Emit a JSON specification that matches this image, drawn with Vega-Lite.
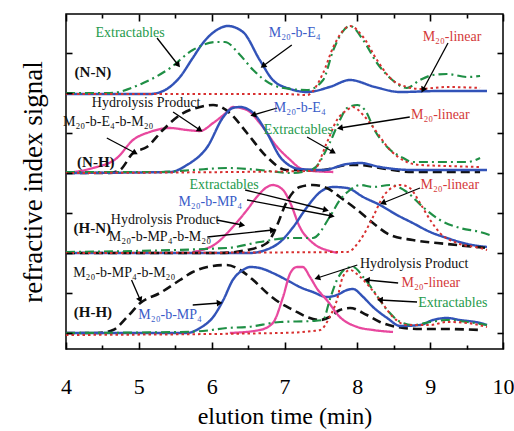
{
"$schema": "https://vega.github.io/schema/vega-lite/v6.json",
"width": 437, "height": 335,
"autosize": "none",
"padding": {"left": 66, "top": 14, "right": 11, "bottom": 82},
"config": {"font": "Liberation Serif", "view": {"stroke": "black", "strokeWidth": 1.5}},
"datasets": {
"curves": [
{"p":"NN","k":"diblock","t":4,"s":5.975},{"p":"NN","k":"diblock","t":5.15,"s":5.975},{"p":"NN","k":"diblock","t":5.36,"s":6.075},{"p":"NN","k":"diblock","t":5.565,"s":6.4},{"p":"NN","k":"diblock","t":5.74,"s":6.875},{"p":"NN","k":"diblock","t":5.88,"s":7.25},{"p":"NN","k":"diblock","t":6.07,"s":7.575},{"p":"NN","k":"diblock","t":6.22,"s":7.675},{"p":"NN","k":"diblock","t":6.43,"s":7.525},{"p":"NN","k":"diblock","t":6.66,"s":6.825},{"p":"NN","k":"diblock","t":6.84,"s":6.325},{"p":"NN","k":"diblock","t":7.08,"s":6.1},{"p":"NN","k":"diblock","t":7.31,"s":6.025},{"p":"NN","k":"diblock","t":7.62,"s":6.15},{"p":"NN","k":"diblock","t":7.9,"s":6.325},{"p":"NN","k":"diblock","t":8.24,"s":6.15},{"p":"NN","k":"diblock","t":8.59,"s":6.025},{"p":"NN","k":"diblock","t":9.135,"s":6.05},{"p":"NN","k":"diblock","t":9.78,"s":6.05},
{"p":"NN","k":"extractables","t":4,"s":6.0},{"p":"NN","k":"extractables","t":4.6,"s":6.0},{"p":"NN","k":"extractables","t":5.06,"s":6.25},{"p":"NN","k":"extractables","t":5.43,"s":6.625},{"p":"NN","k":"extractables","t":5.74,"s":7.075},{"p":"NN","k":"extractables","t":6.07,"s":7.275},{"p":"NN","k":"extractables","t":6.18,"s":7.275},{"p":"NN","k":"extractables","t":6.39,"s":6.95},{"p":"NN","k":"extractables","t":6.57,"s":6.575},{"p":"NN","k":"extractables","t":6.84,"s":6.2},{"p":"NN","k":"extractables","t":7.08,"s":6.1},{"p":"NN","k":"extractables","t":7.31,"s":6.075},{"p":"NN","k":"extractables","t":7.53,"s":6.325},{"p":"NN","k":"extractables","t":7.67,"s":7.075},{"p":"NN","k":"extractables","t":7.86,"s":7.65},{"p":"NN","k":"extractables","t":7.9,"s":7.675},{"p":"NN","k":"extractables","t":8.08,"s":7.325},{"p":"NN","k":"extractables","t":8.27,"s":6.75},{"p":"NN","k":"extractables","t":8.45,"s":6.375},{"p":"NN","k":"extractables","t":8.68,"s":6.125},{"p":"NN","k":"extractables","t":8.86,"s":6.325},{"p":"NN","k":"extractables","t":9.04,"s":6.45},{"p":"NN","k":"extractables","t":9.23,"s":6.475},{"p":"NN","k":"extractables","t":9.51,"s":6.4},{"p":"NN","k":"extractables","t":9.685,"s":6.425},
{"p":"NN","k":"linear","t":4,"s":5.975},{"p":"NN","k":"linear","t":7.0,"s":5.975},{"p":"NN","k":"linear","t":7.31,"s":5.95},{"p":"NN","k":"linear","t":7.53,"s":6.5},{"p":"NN","k":"linear","t":7.67,"s":7.15},{"p":"NN","k":"linear","t":7.86,"s":7.65},{"p":"NN","k":"linear","t":7.9,"s":7.675},{"p":"NN","k":"linear","t":8.08,"s":7.4},{"p":"NN","k":"linear","t":8.27,"s":6.825},{"p":"NN","k":"linear","t":8.45,"s":6.375},{"p":"NN","k":"linear","t":8.68,"s":6.15},{"p":"NN","k":"linear","t":8.86,"s":6.1},{"p":"NN","k":"linear","t":9.23,"s":6.15},{"p":"NN","k":"linear","t":9.685,"s":6.125},
{"p":"NH","k":"hydrolysis","t":4,"s":4.0},{"p":"NH","k":"hydrolysis","t":4.37,"s":4.125},{"p":"NH","k":"hydrolysis","t":4.7,"s":4.375},{"p":"NH","k":"hydrolysis","t":4.92,"s":4.825},{"p":"NH","k":"hydrolysis","t":5.15,"s":5.025},{"p":"NH","k":"hydrolysis","t":5.43,"s":5.125},{"p":"NH","k":"hydrolysis","t":5.66,"s":5.075},{"p":"NH","k":"hydrolysis","t":5.84,"s":5.05},{"p":"NH","k":"hydrolysis","t":6.02,"s":5.25},{"p":"NH","k":"hydrolysis","t":6.21,"s":5.525},{"p":"NH","k":"hydrolysis","t":6.29,"s":5.65},{"p":"NH","k":"hydrolysis","t":6.485,"s":5.575},{"p":"NH","k":"hydrolysis","t":6.66,"s":5.25},{"p":"NH","k":"hydrolysis","t":6.9,"s":4.65},{"p":"NH","k":"hydrolysis","t":7.08,"s":4.325},{"p":"NH","k":"hydrolysis","t":7.21,"s":4.125},{"p":"NH","k":"hydrolysis","t":7.39,"s":4.05},{"p":"NH","k":"hydrolysis","t":7.67,"s":4.025},
{"p":"NH","k":"triblock","t":4,"s":4.0},{"p":"NH","k":"triblock","t":4.6,"s":4.0},{"p":"NH","k":"triblock","t":4.74,"s":4.075},{"p":"NH","k":"triblock","t":4.92,"s":4.5},{"p":"NH","k":"triblock","t":5.11,"s":4.65},{"p":"NH","k":"triblock","t":5.33,"s":5.075},{"p":"NH","k":"triblock","t":5.565,"s":5.45},{"p":"NH","k":"triblock","t":5.84,"s":5.65},{"p":"NH","k":"triblock","t":6.02,"s":5.7},{"p":"NH","k":"triblock","t":6.25,"s":5.5},{"p":"NH","k":"triblock","t":6.485,"s":5.0},{"p":"NH","k":"triblock","t":6.76,"s":4.4},{"p":"NH","k":"triblock","t":7.03,"s":4.075},{"p":"NH","k":"triblock","t":7.53,"s":4.075},{"p":"NH","k":"triblock","t":7.86,"s":4.2},{"p":"NH","k":"triblock","t":8.04,"s":4.2},{"p":"NH","k":"triblock","t":8.31,"s":4.125},{"p":"NH","k":"triblock","t":8.76,"s":4.025},{"p":"NH","k":"triblock","t":9.685,"s":4.025},
{"p":"NH","k":"diblock","t":4,"s":4.0},{"p":"NH","k":"diblock","t":5.43,"s":4.025},{"p":"NH","k":"diblock","t":5.66,"s":4.2},{"p":"NH","k":"diblock","t":5.94,"s":4.65},{"p":"NH","k":"diblock","t":6.16,"s":5.4},{"p":"NH","k":"diblock","t":6.29,"s":5.625},{"p":"NH","k":"diblock","t":6.39,"s":5.65},{"p":"NH","k":"diblock","t":6.57,"s":5.5},{"p":"NH","k":"diblock","t":6.76,"s":5.0},{"p":"NH","k":"diblock","t":6.94,"s":4.4},{"p":"NH","k":"diblock","t":7.08,"s":4.175},{"p":"NH","k":"diblock","t":7.21,"s":4.1},{"p":"NH","k":"diblock","t":7.53,"s":4.075},{"p":"NH","k":"diblock","t":7.86,"s":4.225},{"p":"NH","k":"diblock","t":8.04,"s":4.25},{"p":"NH","k":"diblock","t":8.31,"s":4.15},{"p":"NH","k":"diblock","t":8.76,"s":4.075},{"p":"NH","k":"diblock","t":9.78,"s":4.075},
{"p":"NH","k":"extractables","t":4,"s":4.025},{"p":"NH","k":"extractables","t":5.29,"s":4.025},{"p":"NH","k":"extractables","t":5.74,"s":4.075},{"p":"NH","k":"extractables","t":6.21,"s":4.125},{"p":"NH","k":"extractables","t":6.66,"s":4.075},{"p":"NH","k":"extractables","t":7.08,"s":4.0},{"p":"NH","k":"extractables","t":7.39,"s":4.1},{"p":"NH","k":"extractables","t":7.62,"s":4.75},{"p":"NH","k":"extractables","t":7.76,"s":5.325},{"p":"NH","k":"extractables","t":7.86,"s":5.625},{"p":"NH","k":"extractables","t":8.0,"s":5.7},{"p":"NH","k":"extractables","t":8.13,"s":5.5},{"p":"NH","k":"extractables","t":8.215,"s":5.15},{"p":"NH","k":"extractables","t":8.41,"s":4.65},{"p":"NH","k":"extractables","t":8.63,"s":4.375},{"p":"NH","k":"extractables","t":8.76,"s":4.275},{"p":"NH","k":"extractables","t":9.23,"s":4.275},{"p":"NH","k":"extractables","t":9.51,"s":4.275},{"p":"NH","k":"extractables","t":9.685,"s":4.375},
{"p":"NH","k":"linear","t":4,"s":4.0},{"p":"NH","k":"linear","t":7.39,"s":4.05},{"p":"NH","k":"linear","t":7.58,"s":4.75},{"p":"NH","k":"linear","t":7.72,"s":5.325},{"p":"NH","k":"linear","t":7.86,"s":5.575},{"p":"NH","k":"linear","t":7.94,"s":5.65},{"p":"NH","k":"linear","t":8.08,"s":5.45},{"p":"NH","k":"linear","t":8.215,"s":5.15},{"p":"NH","k":"linear","t":8.45,"s":4.575},{"p":"NH","k":"linear","t":8.68,"s":4.275},{"p":"NH","k":"linear","t":8.86,"s":4.2},{"p":"NH","k":"linear","t":9.23,"s":4.175},{"p":"NH","k":"linear","t":9.685,"s":4.15},
{"p":"HN","k":"hydrolysis","t":5.74,"s":2.025},{"p":"HN","k":"hydrolysis","t":6.07,"s":2.25},{"p":"HN","k":"hydrolysis","t":6.29,"s":2.65},{"p":"HN","k":"hydrolysis","t":6.485,"s":3.075},{"p":"HN","k":"hydrolysis","t":6.62,"s":3.4},{"p":"HN","k":"hydrolysis","t":6.76,"s":3.65},{"p":"HN","k":"hydrolysis","t":6.84,"s":3.7},{"p":"HN","k":"hydrolysis","t":6.98,"s":3.575},{"p":"HN","k":"hydrolysis","t":7.08,"s":3.25},{"p":"HN","k":"hydrolysis","t":7.21,"s":2.65},{"p":"HN","k":"hydrolysis","t":7.39,"s":2.25},{"p":"HN","k":"hydrolysis","t":7.62,"s":2.05},{"p":"HN","k":"hydrolysis","t":7.73,"s":2.0},
{"p":"HN","k":"diblock","t":4,"s":2.0},{"p":"HN","k":"diblock","t":6.53,"s":2.0},{"p":"HN","k":"diblock","t":6.74,"s":2.075},{"p":"HN","k":"diblock","t":6.94,"s":2.275},{"p":"HN","k":"diblock","t":7.12,"s":2.65},{"p":"HN","k":"diblock","t":7.31,"s":3.15},{"p":"HN","k":"diblock","t":7.49,"s":3.525},{"p":"HN","k":"diblock","t":7.67,"s":3.65},{"p":"HN","k":"diblock","t":7.86,"s":3.625},{"p":"HN","k":"diblock","t":8.08,"s":3.4},{"p":"HN","k":"diblock","t":8.31,"s":3.2},{"p":"HN","k":"diblock","t":8.545,"s":2.95},{"p":"HN","k":"diblock","t":8.76,"s":2.75},{"p":"HN","k":"diblock","t":9.0,"s":2.525},{"p":"HN","k":"diblock","t":9.23,"s":2.375},{"p":"HN","k":"diblock","t":9.51,"s":2.225},{"p":"HN","k":"diblock","t":9.78,"s":2.15},
{"p":"HN","k":"triblock","t":4,"s":2.0},{"p":"HN","k":"triblock","t":6.11,"s":2.0},{"p":"HN","k":"triblock","t":6.485,"s":2.075},{"p":"HN","k":"triblock","t":6.76,"s":2.25},{"p":"HN","k":"triblock","t":6.9,"s":2.7},{"p":"HN","k":"triblock","t":7.01,"s":3.2},{"p":"HN","k":"triblock","t":7.12,"s":3.525},{"p":"HN","k":"triblock","t":7.21,"s":3.65},{"p":"HN","k":"triblock","t":7.39,"s":3.7},{"p":"HN","k":"triblock","t":7.58,"s":3.625},{"p":"HN","k":"triblock","t":7.76,"s":3.4},{"p":"HN","k":"triblock","t":8.0,"s":3.075},{"p":"HN","k":"triblock","t":8.215,"s":2.75},{"p":"HN","k":"triblock","t":8.45,"s":2.45},{"p":"HN","k":"triblock","t":8.76,"s":2.325},{"p":"HN","k":"triblock","t":9.23,"s":2.225},{"p":"HN","k":"triblock","t":9.78,"s":2.125},
{"p":"HN","k":"extractables","t":4,"s":2.025},{"p":"HN","k":"extractables","t":6.21,"s":2.125},{"p":"HN","k":"extractables","t":6.66,"s":2.275},{"p":"HN","k":"extractables","t":7.08,"s":2.375},{"p":"HN","k":"extractables","t":7.39,"s":2.375},{"p":"HN","k":"extractables","t":7.62,"s":2.9},{"p":"HN","k":"extractables","t":7.76,"s":3.325},{"p":"HN","k":"extractables","t":7.9,"s":3.575},{"p":"HN","k":"extractables","t":8.04,"s":3.7},{"p":"HN","k":"extractables","t":8.215,"s":3.65},{"p":"HN","k":"extractables","t":8.45,"s":3.7},{"p":"HN","k":"extractables","t":8.68,"s":3.525},{"p":"HN","k":"extractables","t":8.9,"s":3.15},{"p":"HN","k":"extractables","t":9.135,"s":2.825},{"p":"HN","k":"extractables","t":9.41,"s":2.625},{"p":"HN","k":"extractables","t":9.685,"s":2.525},{"p":"HN","k":"extractables","t":9.82,"s":2.45},
{"p":"HN","k":"linear","t":4,"s":2.0},{"p":"HN","k":"linear","t":7.86,"s":2.025},{"p":"HN","k":"linear","t":8.04,"s":2.325},{"p":"HN","k":"linear","t":8.215,"s":2.9},{"p":"HN","k":"linear","t":8.35,"s":3.4},{"p":"HN","k":"linear","t":8.49,"s":3.65},{"p":"HN","k":"linear","t":8.59,"s":3.7},{"p":"HN","k":"linear","t":8.72,"s":3.625},{"p":"HN","k":"linear","t":8.86,"s":3.25},{"p":"HN","k":"linear","t":9.0,"s":2.825},{"p":"HN","k":"linear","t":9.135,"s":2.5},{"p":"HN","k":"linear","t":9.37,"s":2.25},{"p":"HN","k":"linear","t":9.685,"s":2.125},{"p":"HN","k":"linear","t":9.78,"s":2.075},
{"p":"HH","k":"triblock","t":4,"s":0},{"p":"HH","k":"triblock","t":4.43,"s":0},{"p":"HH","k":"triblock","t":4.645,"s":0.075},{"p":"HH","k":"triblock","t":4.84,"s":0.4},{"p":"HH","k":"triblock","t":5.02,"s":0.75},{"p":"HH","k":"triblock","t":5.29,"s":1.0},{"p":"HH","k":"triblock","t":5.565,"s":1.325},{"p":"HH","k":"triblock","t":5.74,"s":1.525},{"p":"HH","k":"triblock","t":5.94,"s":1.65},{"p":"HH","k":"triblock","t":6.21,"s":1.7},{"p":"HH","k":"triblock","t":6.39,"s":1.575},{"p":"HH","k":"triblock","t":6.57,"s":1.325},{"p":"HH","k":"triblock","t":6.76,"s":1.0},{"p":"HH","k":"triblock","t":6.94,"s":0.75},{"p":"HH","k":"triblock","t":7.12,"s":0.575},{"p":"HH","k":"triblock","t":7.31,"s":0.4},{"p":"HH","k":"triblock","t":7.49,"s":0.325},{"p":"HH","k":"triblock","t":7.62,"s":0.4},{"p":"HH","k":"triblock","t":7.76,"s":0.575},{"p":"HH","k":"triblock","t":7.9,"s":0.625},{"p":"HH","k":"triblock","t":8.13,"s":0.45},{"p":"HH","k":"triblock","t":8.31,"s":0.275},{"p":"HH","k":"triblock","t":8.545,"s":0.15},{"p":"HH","k":"triblock","t":8.86,"s":0.1},{"p":"HH","k":"triblock","t":9.23,"s":0.1},{"p":"HH","k":"triblock","t":9.685,"s":0.075},
{"p":"HH","k":"diblock","t":4,"s":0},{"p":"HH","k":"diblock","t":5.66,"s":0},{"p":"HH","k":"diblock","t":5.84,"s":0.125},{"p":"HH","k":"diblock","t":6.02,"s":0.4},{"p":"HH","k":"diblock","t":6.16,"s":0.825},{"p":"HH","k":"diblock","t":6.29,"s":1.325},{"p":"HH","k":"diblock","t":6.43,"s":1.575},{"p":"HH","k":"diblock","t":6.53,"s":1.65},{"p":"HH","k":"diblock","t":6.66,"s":1.625},{"p":"HH","k":"diblock","t":6.84,"s":1.5},{"p":"HH","k":"diblock","t":7.03,"s":1.325},{"p":"HH","k":"diblock","t":7.24,"s":1.125},{"p":"HH","k":"diblock","t":7.39,"s":1.025},{"p":"HH","k":"diblock","t":7.58,"s":0.9},{"p":"HH","k":"diblock","t":7.72,"s":0.95},{"p":"HH","k":"diblock","t":7.86,"s":1.075},{"p":"HH","k":"diblock","t":7.94,"s":1.1},{"p":"HH","k":"diblock","t":8.08,"s":0.9},{"p":"HH","k":"diblock","t":8.215,"s":0.65},{"p":"HH","k":"diblock","t":8.41,"s":0.375},{"p":"HH","k":"diblock","t":8.59,"s":0.175},{"p":"HH","k":"diblock","t":8.86,"s":0.2},{"p":"HH","k":"diblock","t":9.04,"s":0.325},{"p":"HH","k":"diblock","t":9.23,"s":0.375},{"p":"HH","k":"diblock","t":9.41,"s":0.325},{"p":"HH","k":"diblock","t":9.685,"s":0.25},{"p":"HH","k":"diblock","t":9.78,"s":0.2},
{"p":"HH","k":"hydrolysis","t":6.25,"s":0},{"p":"HH","k":"hydrolysis","t":6.66,"s":0.075},{"p":"HH","k":"hydrolysis","t":6.84,"s":0.25},{"p":"HH","k":"hydrolysis","t":6.98,"s":0.9},{"p":"HH","k":"hydrolysis","t":7.08,"s":1.5},{"p":"HH","k":"hydrolysis","t":7.17,"s":1.65},{"p":"HH","k":"hydrolysis","t":7.25,"s":1.65},{"p":"HH","k":"hydrolysis","t":7.35,"s":1.4},{"p":"HH","k":"hydrolysis","t":7.45,"s":1.1},{"p":"HH","k":"hydrolysis","t":7.58,"s":0.825},{"p":"HH","k":"hydrolysis","t":7.76,"s":0.4},{"p":"HH","k":"hydrolysis","t":8.0,"s":0.15},{"p":"HH","k":"hydrolysis","t":8.215,"s":0.075},{"p":"HH","k":"hydrolysis","t":8.49,"s":0.025},
{"p":"HH","k":"extractables","t":4,"s":0},{"p":"HH","k":"extractables","t":5.565,"s":0.025},{"p":"HH","k":"extractables","t":5.88,"s":0.05},{"p":"HH","k":"extractables","t":6.21,"s":0.125},{"p":"HH","k":"extractables","t":6.485,"s":0.15},{"p":"HH","k":"extractables","t":6.94,"s":0.275},{"p":"HH","k":"extractables","t":7.39,"s":0.3},{"p":"HH","k":"extractables","t":7.53,"s":0.325},{"p":"HH","k":"extractables","t":7.62,"s":0.825},{"p":"HH","k":"extractables","t":7.72,"s":1.325},{"p":"HH","k":"extractables","t":7.86,"s":1.625},{"p":"HH","k":"extractables","t":7.94,"s":1.65},{"p":"HH","k":"extractables","t":8.08,"s":1.4},{"p":"HH","k":"extractables","t":8.215,"s":1.075},{"p":"HH","k":"extractables","t":8.41,"s":0.575},{"p":"HH","k":"extractables","t":8.59,"s":0.275},{"p":"HH","k":"extractables","t":8.76,"s":0.2},{"p":"HH","k":"extractables","t":9.0,"s":0.275},{"p":"HH","k":"extractables","t":9.23,"s":0.325},{"p":"HH","k":"extractables","t":9.51,"s":0.275},{"p":"HH","k":"extractables","t":9.78,"s":0.2},
{"p":"HH","k":"linear","t":4,"s":-0.05},{"p":"HH","k":"linear","t":6.94,"s":0.0},{"p":"HH","k":"linear","t":7.39,"s":0.05},{"p":"HH","k":"linear","t":7.49,"s":0.075},{"p":"HH","k":"linear","t":7.62,"s":0.4},{"p":"HH","k":"linear","t":7.72,"s":0.825},{"p":"HH","k":"linear","t":7.8,"s":1.4},{"p":"HH","k":"linear","t":7.9,"s":1.575},{"p":"HH","k":"linear","t":8.04,"s":1.4},{"p":"HH","k":"linear","t":8.17,"s":1.15},{"p":"HH","k":"linear","t":8.31,"s":0.825},{"p":"HH","k":"linear","t":8.49,"s":0.4},{"p":"HH","k":"linear","t":8.68,"s":0.2},{"p":"HH","k":"linear","t":9.0,"s":0.2},{"p":"HH","k":"linear","t":9.23,"s":0.275},{"p":"HH","k":"linear","t":9.51,"s":0.25},{"p":"HH","k":"linear","t":9.78,"s":0.15}
],
"notes": [
{"label":"Extractables","g":"extractables","t":4.88,"s":7.5},
{"label":"M₂₀-b-E₄","g":"diblock","t":7.14,"s":7.5},
{"label":"M₂₀-linear","g":"linear","t":9.3,"s":7.4},
{"label":"Hydrolysis Product","g":"other","t":5.1,"s":5.75},
{"label":"M₂₀-b-E₄-b-M₂₀","g":"other","t":4.58,"s":5.275},
{"label":"M₂₀-b-E₄","g":"diblock","t":7.21,"s":5.625},
{"label":"M₂₀-linear","g":"linear","t":9.14,"s":5.45},
{"label":"Extractables","g":"extractables","t":7.19,"s":5.075},
{"label":"Extractables","g":"extractables","t":6.17,"s":3.7},
{"label":"M₂₀-b-MP₄","g":"diblock","t":5.98,"s":3.275},
{"label":"Hydrolysis Product","g":"other","t":5.36,"s":2.825},
{"label":"M₂₀-b-MP₄-b-M₂₀","g":"other","t":5.29,"s":2.4},
{"label":"M₂₀-linear","g":"linear","t":9.27,"s":3.7},
{"label":"M₂₀-b-MP₄-b-M₂₀","g":"other","t":4.8,"s":1.5},
{"label":"M₂₀-b-MP₄","g":"diblock","t":5.43,"s":0.45},
{"label":"Hydrolysis Product","g":"other","t":8.78,"s":1.725},
{"label":"M₂₀-linear","g":"linear","t":9.01,"s":1.25},
{"label":"Extractables","g":"extractables","t":9.31,"s":0.75}
],
"panels": [
{"label":"(N-N)","t":4.37,"s":6.525},
{"label":"(N-H)","t":4.41,"s":4.275},
{"label":"(H-N)","t":4.36,"s":2.625},
{"label":"(H-H)","t":4.37,"s":0.525}
],
"arrows": [
{"t":5.25,"s":7.375,"t2":5.54,"s2":6.7},
{"t":7.10,"s":7.2,"t2":6.705,"s2":6.675},
{"t":9.245,"s":7.25,"t2":8.9,"s2":6.075},
{"t":5.47,"s":5.525,"t2":5.84,"s2":5.075},
{"t":4.56,"s":4.875,"t2":4.95,"s2":4.5},
{"t":6.9,"s":5.625,"t2":6.57,"s2":5.45},
{"t":8.72,"s":5.4,"t2":7.76,"s2":5.125},
{"t":7.31,"s":4.9,"t2":7.67,"s2":4.525},
{"t":6.46,"s":3.575,"t2":7.57,"s2":3.075},
{"t":6.485,"s":3.325,"t2":7.65,"s2":2.925},
{"t":6.07,"s":2.825,"t2":6.42,"s2":2.7},
{"t":5.94,"s":2.4,"t2":6.84,"s2":2.575},
{"t":8.86,"s":3.625,"t2":8.35,"s2":3.25},
{"t":4.9,"s":1.325,"t2":5.02,"s2":0.825},
{"t":5.74,"s":0.7,"t2":6.11,"s2":0.75},
{"t":8.0,"s":1.7,"t2":7.45,"s2":1.375},
{"t":8.56,"s":1.25,"t2":8.13,"s2":1.325},
{"t":8.82,"s":0.775,"t2":8.31,"s2":0.825}
]
},
"resolve": {"axis": {"x": "independent", "y": "independent"}, "scale": {"color": "independent"}},
"layer": [
{
"data": {"name": "curves"},
"mark": {"type": "line", "interpolate": "monotone", "clip": true},
"encoding": {
"x": {"field": "t", "type": "quantitative", "scale": {"domain": [4, 10], "nice": false, "zero": false},
 "axis": {"orient": "bottom", "values": [4,4.5,5,5.5,6,6.5,7,7.5,8,8.5,9,9.5,10], "labelExpr": "datum.value % 1 === 0 ? format(datum.value, 'd') : ''",
  "tickSize": {"condition": {"test": "datum.value % 1 === 0", "value": -7}, "value": -4}, "tickColor": "black", "tickWidth": 1.6, "zindex": 2,
  "domain": false, "grid": false, "labelFlush": false, "labelOverlap": false, "labelBound": false,
  "labelFontSize": 22, "labelColor": "black", "labelPadding": 34,
  "title": "elution time (min)", "titleFontSize": 24, "titleFontWeight": "normal", "titleColor": "black", "titlePadding": 4}},
"y": {"field": "s", "type": "quantitative", "scale": {"domain": [-0.4, 7.975], "nice": false, "zero": false},
 "axis": {"orient": "left", "values": [0,1,2,3,4,5,6,7], "labels": false, "tickSize": -6, "tickColor": "black", "tickWidth": 1.6, "zindex": 2,
  "domain": false, "grid": false, "title": "refractive index signal", "titleFontSize": 27, "titleFontWeight": "normal", "titleColor": "black", "titlePadding": 18}},
"color": {"field": "k", "type": "nominal", "legend": null,
 "scale": {"domain": ["triblock","diblock","hydrolysis","extractables","linear"], "range": ["#111111","#3253b8","#e8489e","#1f8f45","#d83030"]}},
"strokeDash": {"field": "k", "type": "nominal", "legend": null,
 "scale": {"domain": ["triblock","diblock","hydrolysis","extractables","linear"], "range": [[9,5],[1,0],[1,0],[9,4,2,4],[2.5,3]]}},
"strokeWidth": {"field": "k", "type": "nominal", "legend": null,
 "scale": {"domain": ["triblock","diblock","hydrolysis","extractables","linear"], "range": [2.6,2,2,2.5,2.6]}},
"detail": {"field": "p"}
}
},
{
"data": {"name": "curves"},
"mark": {"type": "point", "opacity": 0},
"encoding": {
"x": {"field": "t", "type": "quantitative", "axis": {"orient": "top", "values": [4,4.5,5,5.5,6,6.5,7,7.5,8,8.5,9,9.5,10], "labels": false, "title": null, "domain": false, "grid": false, "zindex": 2,
  "tickSize": {"condition": {"test": "datum.value % 1 === 0", "value": -7}, "value": -4}, "tickColor": "black", "tickWidth": 1.6}},
"y": {"field": "s", "type": "quantitative", "axis": {"orient": "right", "values": [0,1,2,3,4,5,6,7], "labels": false, "title": null, "domain": false, "grid": false, "tickSize": -6, "tickColor": "black", "tickWidth": 1.6, "zindex": 2}}
}
},
{
"data": {"name": "arrows"},
"mark": {"type": "rule", "color": "black", "strokeWidth": 1.3},
"encoding": {"x": {"field": "t", "type": "quantitative", "axis": null}, "y": {"field": "s", "type": "quantitative", "axis": null}, "x2": {"field": "t2"}, "y2": {"field": "s2"}}
},
{
"data": {"name": "arrows"},
"transform": [{"calculate": "atan2((datum.t2 - datum.t) * 72.83, (datum.s2 - datum.s) * 40) * 180 / PI", "as": "ang"}],
"mark": {"type": "point", "shape": "triangle-up", "filled": true, "color": "black", "opacity": 1, "size": 45},
"encoding": {"x": {"field": "t2", "type": "quantitative", "axis": null}, "y": {"field": "s2", "type": "quantitative", "axis": null}, "angle": {"field": "ang", "type": "quantitative", "scale": null}}
},
{
"data": {"name": "notes"},
"mark": {"type": "text", "fontSize": 14, "align": "center", "baseline": "middle"},
"encoding": {"x": {"field": "t", "type": "quantitative", "axis": null}, "y": {"field": "s", "type": "quantitative", "axis": null}, "text": {"field": "label"},
 "color": {"field": "g", "type": "nominal", "legend": null, "scale": {"domain": ["other","diblock","extractables","linear"], "range": ["#111111","#3a5cc8","#259a4c","#d43a3a"]}}}
},
{
"data": {"name": "panels"},
"mark": {"type": "text", "fontSize": 15, "fontWeight": "bold", "align": "center", "baseline": "middle", "color": "#111111"},
"encoding": {"x": {"field": "t", "type": "quantitative", "axis": null}, "y": {"field": "s", "type": "quantitative", "axis": null}, "text": {"field": "label"}}
}
]
}
